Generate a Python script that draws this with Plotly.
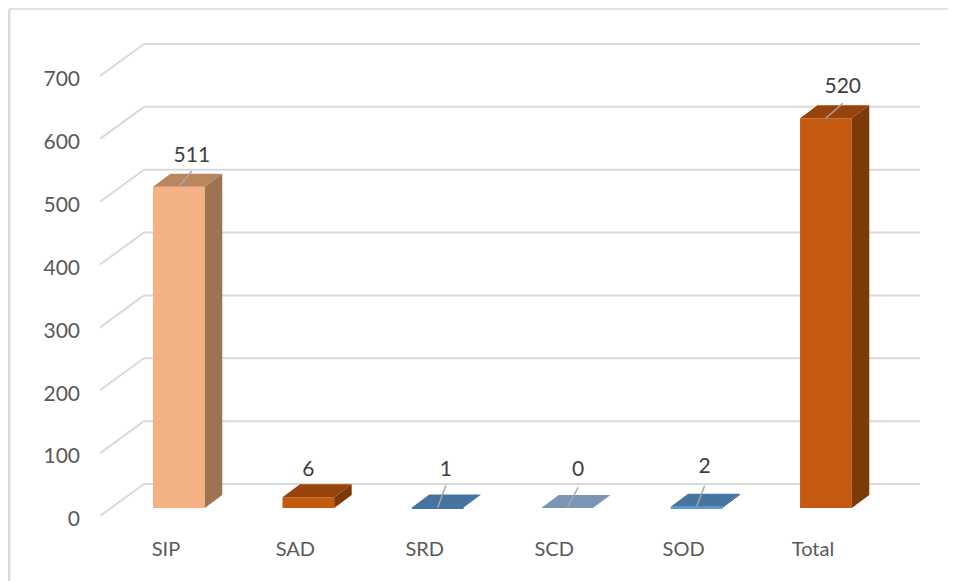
import plotly.graph_objects as go

categories = ["SIP", "SAD", "SRD", "SCD", "SOD", "Total"]
drawn_heights = [511, 17, 1, 0, 2, 620]
label_values = ["511", "6", "1", "0", "2", "520"]
y_ticks = [0, 100, 200, 300, 400, 500, 600, 700]

front_colors = ["#F4B183", "#C55A11", "#44749F", "#7F9AB9", "#5B9BD5", "#C55A11"]
top_colors = ["#BA8660", "#97430B", "#44749F", "#7B95B4", "#44749F", "#97430B"]
side_colors = ["#9E7352", "#7E3908", "#44749F", "#7B95B4", "#2F5F8A", "#7E3908"]

# geometry, in axis units: one category step and one value unit
BAR_SHIFT, BAR_W = 0.10, 0.40
BAR_BASE = 12.7
DEPTH_X, DEPTH_Y = 0.135, 20.7
WALL_X, WALL_Y = 0.34, 50.9
FLOOR_LEFT, WALL_RIGHT = -0.51, 5.827
Y_TOP = 760.4
LEADER_DX = [0.10, 0, 0.062, 0.085, 0.062, 0.13]
LEADER_DY = [25, 0, 35, 33, 33, 24]
LABEL_DY = [23, 42, 24, 27, 29, 25]

W, H = 948, 573
ML, MR, MT, MB = 92, 36, 30, 65
PW, PH = W - ML - MR, H - MT - MB

GRID = "#D9D9D9"
shapes = []
for t in y_ticks:
    shapes.append(dict(type="line", layer="below", xref="x", yref="y",
                       x0=FLOOR_LEFT, y0=t, x1=FLOOR_LEFT + WALL_X, y1=t + WALL_Y,
                       line=dict(color=GRID, width=2)))
    shapes.append(dict(type="line", layer="below", xref="x", yref="y",
                       x0=FLOOR_LEFT + WALL_X, y0=t + WALL_Y, x1=WALL_RIGHT, y1=t + WALL_Y,
                       line=dict(color=GRID, width=2)))
# chart frame: left and top edges, placed in paper fractions from page pixels
frame_left = (1.2 - ML) / PW
frame_top = 1 + (MT - 1.0) / PH
shapes.append(dict(type="line", layer="below", xref="paper", yref="paper",
                   x0=frame_left, x1=frame_left, y0=-MB / PH, y1=frame_top,
                   line=dict(color=GRID, width=2.4)))
shapes.append(dict(type="line", layer="below", xref="paper", yref="paper",
                   x0=frame_left, x1=1 + MR / PW, y0=frame_top, y1=frame_top,
                   line=dict(color=GRID, width=1.6)))

fig = go.Figure()
xs = [i + BAR_SHIFT for i in range(len(categories))]
bases = [BAR_BASE] * len(categories)

fig.add_trace(go.Bar(x=xs, y=drawn_heights, base=bases, width=BAR_W,
                     marker=dict(color=front_colors, line=dict(width=0)),
                     hoverinfo="skip", showlegend=False))

for i, h in enumerate(drawn_heights):
    l = xs[i] - BAR_W / 2
    r = xs[i] + BAR_W / 2
    b = BAR_BASE
    t = BAR_BASE + h
    fig.add_trace(go.Scatter(
        x=[l, r, r + DEPTH_X, l + DEPTH_X, l], y=[t, t, t + DEPTH_Y, t + DEPTH_Y, t],
        mode="lines", line=dict(width=0), fill="toself", fillcolor=top_colors[i],
        hoverinfo="skip", showlegend=False))
    if h > 0:
        fig.add_trace(go.Scatter(
            x=[r, r + DEPTH_X, r + DEPTH_X, r, r],
            y=[b, b + DEPTH_Y, t + DEPTH_Y, t, b],
            mode="lines", line=dict(width=0), fill="toself", fillcolor=side_colors[i],
            hoverinfo="skip", showlegend=False))
    if LEADER_DY[i]:
        fig.add_trace(go.Scatter(
            x=[xs[i], xs[i] + LEADER_DX[i]], y=[t, t + LEADER_DY[i]],
            mode="lines", line=dict(color="#A6A6A6", width=1.5),
            hoverinfo="skip", showlegend=False))
    tx = xs[i] + LEADER_DX[i]
    ty = t + LEADER_DY[i] + LABEL_DY[i]
    fig.add_trace(go.Scatter(
        x=[tx], y=[ty], mode="text", text=[label_values[i]],
        textposition="middle center",
        textfont=dict(family="Lato, Carlito, sans-serif", size=21, color="#404040"),
        hoverinfo="skip", showlegend=False))

fig.update_layout(
    width=W, height=H,
    margin=dict(l=ML, r=MR, t=MT, b=MB, autoexpand=False),
    paper_bgcolor="white", plot_bgcolor="white",
    barmode="overlay",
    shapes=shapes,
    xaxis=dict(range=[FLOOR_LEFT, WALL_RIGHT], tickmode="array",
               tickvals=list(range(len(categories))), ticktext=categories,
               showgrid=False, zeroline=False, showline=False, ticks="",
               ticklabelstandoff=19,
               tickfont=dict(family="Lato, Carlito, sans-serif", size=20, color="#595959")),
    yaxis=dict(range=[0, Y_TOP], tickmode="array", tickvals=y_ticks,
               showgrid=False, zeroline=False, showline=False, ticks="",
               ticklabelstandoff=19, ticklabelshift=3,
               tickfont=dict(family="Lato, Carlito, sans-serif", size=21, color="#595959")),
)
fig.write_html("out.html")
